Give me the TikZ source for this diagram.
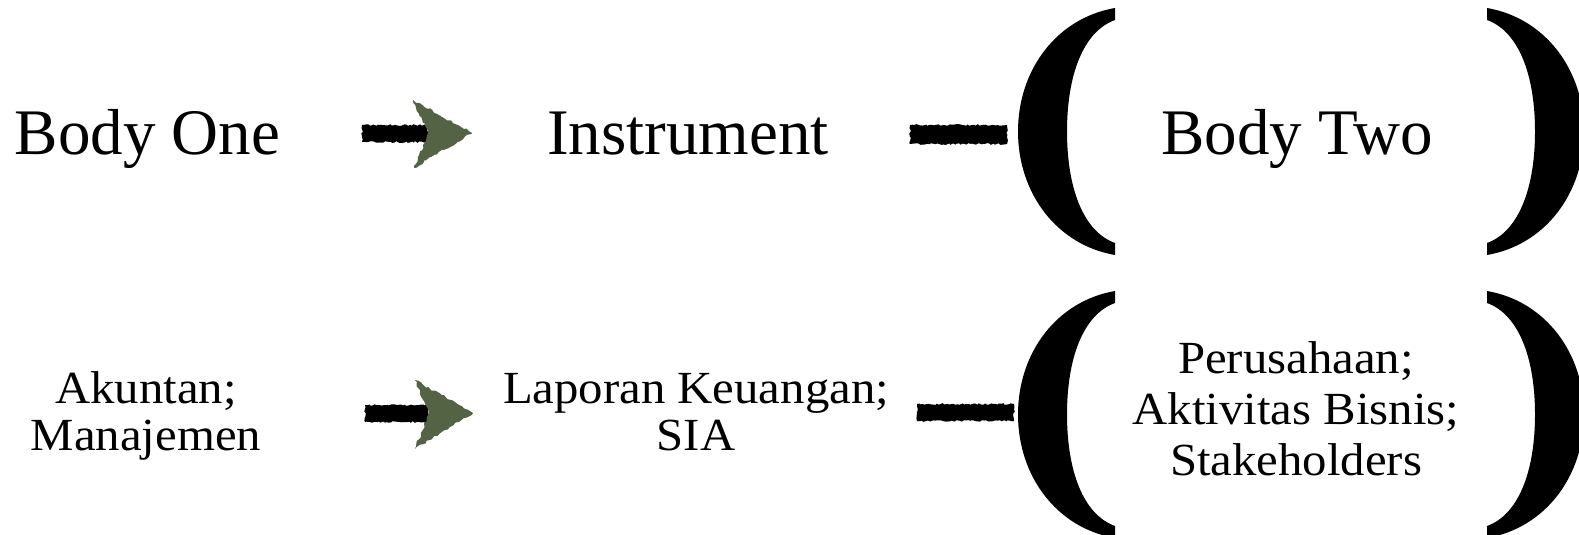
\documentclass[tikz,border=0pt]{standalone}
\usepackage{fontspec}
\setmainfont{Liberation Serif}
\newfontfamily\widefont{Liberation Serif}[FakeStretch=1.06]
\usetikzlibrary{decorations.pathmorphing}
\definecolor{arrowgreen}{RGB}{84,99,67}
\tikzset{
  bigtxt/.style={font=\fontsize{32.5}{40}\selectfont, inner sep=0pt, anchor=base},
  smalltxt/.style={font=\widefont\fontsize{23}{23.5}\selectfont, inner sep=0pt, align=center, anchor=base},
  smalltxtb/.style={font=\widefont\fontsize{23}{25.5}\selectfont, inner sep=0pt, align=center, anchor=base},
  roughbar/.style={fill=black, decorate, decoration={random steps, segment length=1pt, amplitude=0.45pt}},
  roughhead/.style={fill=arrowgreen, decorate, decoration={random steps, segment length=1.5pt, amplitude=0.6pt}},
  lpar/.pic={
    \fill (0,-123.5) .. controls (-58,-113.5) and (-97,-62) .. (-97,0)
      .. controls (-97,62) and (-58,113.5) .. (0,123.5)
      -- (0,111.5) .. controls (-32,100) and (-48,56) .. (-48,0)
      .. controls (-48,-56) and (-32,-100) .. (0,-111.5) -- cycle;
  }
}
\begin{document}
\begin{tikzpicture}[x=0.5pt, y=-0.5pt]
\useasboundingbox (0,0) rectangle (1579,535);
% row 1 texts
\node[bigtxt] (b1) at (147.5,155) {Body One};
\node[bigtxt] (ins) at (688,155) {Instrument};
\node[bigtxt] (b2) at (1297,155) {Body Two};
% row 2 texts (base = last line)
\node[smalltxt] (ak) at (146,450) {Akuntan;\\Manajemen};
\node[smalltxt] (lk) at (696,450) {Laporan Keuangan;\\SIA};
\node[smalltxtb] (pr) at (1296,475) {Perusahaan;\\Aktivitas Bisnis;\\Stakeholders};
% parentheses
\pic at (1115,131.5) {lpar};
\pic[xscale=-1] at (1487,131.5) {lpar};
\pic at (1115,414.5) {lpar};
\pic[xscale=-1] at (1487,414.5) {lpar};
% connector anchors
\coordinate (a1s) at (362,133);
\coordinate (a1n) at (428,133);
\coordinate (a1t) at (472,133);
\coordinate (d1s) at (910,134);
\coordinate (d1e) at (1007,134);
\coordinate (a2s) at (365,413);
\coordinate (a2n) at (429,413);
\coordinate (a2t) at (473,413);
\coordinate (d2s) at (917,412);
\coordinate (d2e) at (1014,412);
% arrow 1
\fill[roughbar] ([yshift=-4.5]a1s) rectangle ([yshift=4]a1n);
\fill[roughhead] (a1t) -- ++(-59,-33) -- (a1n) -- ++(-14,35) -- cycle;
% dash 1
\fill[roughbar] ([yshift=-5]d1s) rectangle ([yshift=4.5]d1e);
% arrow 2
\fill[roughbar] ([yshift=-4.5]a2s) rectangle ([yshift=4]a2n);
\fill[roughhead] (a2t) -- ++(-58,-33) -- (a2n) -- ++(-14,36) -- cycle;
% dash 2
\fill[roughbar] ([yshift=-4.5]d2s) rectangle ([yshift=4]d2e);
\end{tikzpicture}
\end{document}
